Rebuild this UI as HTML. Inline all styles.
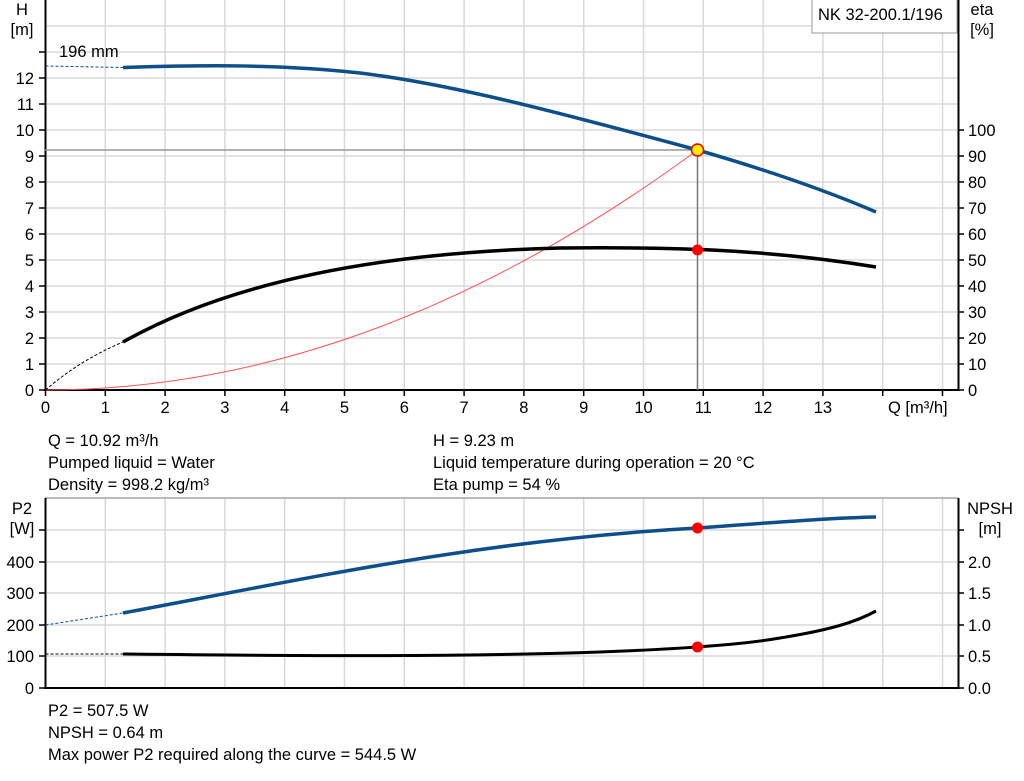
<!DOCTYPE html>
<html><head><meta charset="utf-8"><style>
html,body{margin:0;padding:0;background:#fff;}
svg{display:block;font-family:"Liberation Sans",Arial,sans-serif;}
</style></head><body>
<svg width="1024" height="781" viewBox="0 0 1024 781" xmlns="http://www.w3.org/2000/svg">
<g stroke="#d8d8d8" stroke-width="1.5">
<line x1="45" y1="26" x2="958" y2="26"/><line x1="45" y1="52" x2="958" y2="52"/><line x1="45" y1="78" x2="958" y2="78"/><line x1="45" y1="104" x2="958" y2="104"/><line x1="45" y1="130" x2="958" y2="130"/><line x1="45" y1="156" x2="958" y2="156"/><line x1="45" y1="182" x2="958" y2="182"/><line x1="45" y1="208" x2="958" y2="208"/><line x1="45" y1="234" x2="958" y2="234"/><line x1="45" y1="260" x2="958" y2="260"/><line x1="45" y1="286" x2="958" y2="286"/><line x1="45" y1="312" x2="958" y2="312"/><line x1="45" y1="338" x2="958" y2="338"/><line x1="45" y1="364" x2="958" y2="364"/>
<line x1="45" y1="498" x2="958" y2="498"/><line x1="45" y1="530" x2="958" y2="530"/><line x1="45" y1="562" x2="958" y2="562"/><line x1="45" y1="593" x2="958" y2="593"/><line x1="45" y1="625" x2="958" y2="625"/><line x1="45" y1="656" x2="958" y2="656"/>
</g>
<g stroke="#d8d8d8" stroke-width="1.5">
<line x1="105.3" y1="0" x2="105.3" y2="390"/><line x1="165.1" y1="0" x2="165.1" y2="390"/><line x1="224.9" y1="0" x2="224.9" y2="390"/><line x1="284.7" y1="0" x2="284.7" y2="390"/><line x1="344.5" y1="0" x2="344.5" y2="390"/><line x1="404.3" y1="0" x2="404.3" y2="390"/><line x1="464.1" y1="0" x2="464.1" y2="390"/><line x1="523.9" y1="0" x2="523.9" y2="390"/><line x1="583.7" y1="0" x2="583.7" y2="390"/><line x1="643.5" y1="0" x2="643.5" y2="390"/><line x1="703.3" y1="0" x2="703.3" y2="390"/><line x1="763.1" y1="0" x2="763.1" y2="390"/><line x1="822.9" y1="0" x2="822.9" y2="390"/><line x1="882.7" y1="0" x2="882.7" y2="390"/><line x1="942.5" y1="0" x2="942.5" y2="390"/>
<line x1="105.3" y1="498" x2="105.3" y2="688"/><line x1="165.1" y1="498" x2="165.1" y2="688"/><line x1="224.9" y1="498" x2="224.9" y2="688"/><line x1="284.7" y1="498" x2="284.7" y2="688"/><line x1="344.5" y1="498" x2="344.5" y2="688"/><line x1="404.3" y1="498" x2="404.3" y2="688"/><line x1="464.1" y1="498" x2="464.1" y2="688"/><line x1="523.9" y1="498" x2="523.9" y2="688"/><line x1="583.7" y1="498" x2="583.7" y2="688"/><line x1="643.5" y1="498" x2="643.5" y2="688"/><line x1="703.3" y1="498" x2="703.3" y2="688"/><line x1="763.1" y1="498" x2="763.1" y2="688"/><line x1="822.9" y1="498" x2="822.9" y2="688"/><line x1="882.7" y1="498" x2="882.7" y2="688"/><line x1="942.5" y1="498" x2="942.5" y2="688"/>
</g>
<line x1="45" y1="498" x2="958" y2="498" stroke="#aaa" stroke-width="1.5"/>
<g stroke="#000" stroke-width="2">
<line x1="45.5" y1="0" x2="45.5" y2="391"/><line x1="44" y1="390" x2="959" y2="390"/><line x1="958.5" y1="0" x2="958.5" y2="391"/>
<line x1="45.5" y1="498" x2="45.5" y2="689"/><line x1="44" y1="688" x2="959" y2="688"/><line x1="958.5" y1="498" x2="958.5" y2="689"/>
</g>
<g stroke="#000" stroke-width="1.5">
<path d="M39 52h6M39 78h6M39 104h6M39 130h6M39 156h6M39 182h6M39 208h6M39 234h6M39 260h6M39 286h6M39 312h6M39 338h6M39 364h6M39 390h6"/>
<path d="M958 130h6M958 156h6M958 182h6M958 208h6M958 234h6M958 260h6M958 286h6M958 312h6M958 338h6M958 364h6M958 390h6"/>
<path d="M45.5 390v6M105.3 390v6M165.1 390v6M224.9 390v6M284.7 390v6M344.5 390v6M404.3 390v6M464.1 390v6M523.9 390v6M583.7 390v6M643.5 390v6M703.3 390v6M763.1 390v6M822.9 390v6M882.7 390v6M942.5 390v6"/>
<path d="M39 530h6M39 562h6M39 593h6M39 625h6M39 656h6M39 688h6"/>
<path d="M958 530h6M958 562h6M958 593h6M958 625h6M958 656h6M958 688h6"/>
</g>
<g font-size="16.5" fill="#000">
<g text-anchor="end">
<text x="34" y="84">12</text><text x="34" y="110">11</text><text x="34" y="136">10</text><text x="34" y="162">9</text><text x="34" y="188">8</text><text x="34" y="214">7</text><text x="34" y="240">6</text><text x="34" y="266">5</text><text x="34" y="292">4</text><text x="34" y="318">3</text><text x="34" y="344">2</text><text x="34" y="370">1</text><text x="34" y="396">0</text>
<text x="34" y="568">400</text><text x="34" y="599">300</text><text x="34" y="631">200</text><text x="34" y="662">100</text><text x="34" y="694">0</text>
</g>
<g text-anchor="middle">
<text x="22" y="15">H</text><text x="22" y="35">[m]</text>
<text x="22" y="514">P2</text><text x="22" y="534">[W]</text>
<text x="982" y="15">eta</text><text x="982" y="35">[%]</text>
<text x="990" y="514">NPSH</text><text x="990" y="534">[m]</text>
<text x="45.5" y="413">0</text><text x="105.3" y="413">1</text><text x="165.1" y="413">2</text><text x="224.9" y="413">3</text><text x="284.7" y="413">4</text><text x="344.5" y="413">5</text><text x="404.3" y="413">6</text><text x="464.1" y="413">7</text><text x="523.9" y="413">8</text><text x="583.7" y="413">9</text><text x="643.5" y="413">10</text><text x="703.3" y="413">11</text><text x="763.1" y="413">12</text><text x="822.9" y="413">13</text>
</g>
<text x="888" y="413">Q [m³/h]</text>
<g>
<text x="968" y="136">100</text><text x="968" y="162">90</text><text x="968" y="188">80</text><text x="968" y="214">70</text><text x="968" y="240">60</text><text x="968" y="266">50</text><text x="968" y="292">40</text><text x="968" y="318">30</text><text x="968" y="344">20</text><text x="968" y="370">10</text><text x="968" y="396">0</text>
<text x="968" y="568">2.0</text><text x="968" y="599">1.5</text><text x="968" y="631">1.0</text><text x="968" y="662">0.5</text><text x="968" y="694">0.0</text>
</g>
<text x="59" y="57">196 mm</text>
<text x="48" y="446">Q = 10.92 m³/h</text>
<text x="48" y="468">Pumped liquid = Water</text>
<text x="48" y="490">Density = 998.2 kg/m³</text>
<text x="433" y="446">H = 9.23 m</text>
<text x="433" y="468">Liquid temperature during operation = 20 °C</text>
<text x="433" y="490">Eta pump = 54 %</text>
<text x="48" y="716">P2 = 507.5 W</text>
<text x="48" y="738">NPSH = 0.64 m</text>
<text x="48" y="760">Max power P2 required along the curve = 544.5 W</text>
</g>
<rect x="812" y="-1" width="145" height="34" fill="#fff" stroke="#999" stroke-width="1"/>
<text x="818" y="20" font-size="16.5">NK 32-200.1/196</text>
<line x1="45" y1="150" x2="698" y2="150" stroke="#999" stroke-width="1.5"/>
<line x1="697.5" y1="150" x2="697.5" y2="390" stroke="#777" stroke-width="1.5"/>
<path d="M45.5 390 Q371.5 390 697.5 150" fill="none" stroke="#ff5050" stroke-width="1"/>
<path d="M45.5 66 L123 67.5" stroke="#0d4f8b" stroke-width="1" stroke-dasharray="3,2" fill="none"/>
<path d="M123 67.5 C200 65 280 64 360 73 C450 84 550 110 697.5 150 C760 168 820 188 876 212" fill="none" stroke="#0d4f8b" stroke-width="3.5"/>
<path d="M45.5 390 Q80 360 123 342" stroke="#000" stroke-width="1" stroke-dasharray="3,2" fill="none"/>
<path d="M123 342 C240 276 400 252 560 248 C660 247 760 248 876 267" fill="none" stroke="#000" stroke-width="3.5"/>
<path d="M45.5 625 L123 613" stroke="#0d4f8b" stroke-width="1" stroke-dasharray="3,2" fill="none"/>
<path d="M123 613 C300 580 480 540 697.5 528 C780 522 830 518 876 517" fill="none" stroke="#0d4f8b" stroke-width="3.5"/>
<path d="M45.5 654 L123 654" stroke="#000" stroke-width="1" stroke-dasharray="3,2" fill="none"/>
<path d="M123 654 C300 656 450 657 600 652 C680 649 740 645 780 638 C830 630 856 622 876 611" fill="none" stroke="#000" stroke-width="3"/>
<circle cx="697.5" cy="150" r="6" fill="#ffee00" stroke="#e00" stroke-width="1.5"/>
<circle cx="697.5" cy="250" r="5.5" fill="#f00"/>
<circle cx="697.5" cy="528" r="5.5" fill="#f00"/>
<circle cx="697.5" cy="647" r="5.5" fill="#f00"/>
</svg>
</body></html>
